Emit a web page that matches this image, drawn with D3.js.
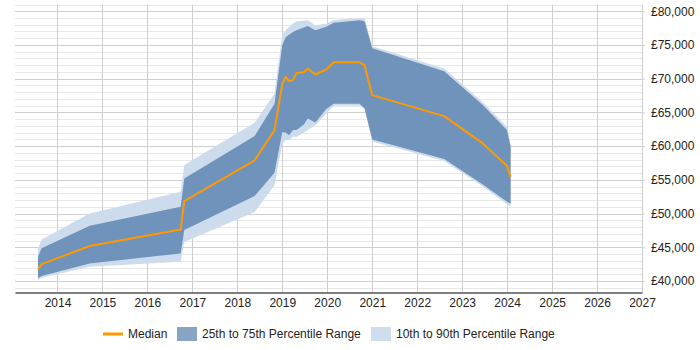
<!DOCTYPE html>
<html>
<head>
<meta charset="utf-8">
<script src="https://cdn.jsdelivr.net/npm/d3@7"></script>
<style>
  body { margin: 0; background: #fff; }
  text { font-family: "Liberation Sans", Arial, sans-serif; }
</style>
</head>
<body>
<div id="chart"></div>
<script>
// values
var dates = ["2013-07-27", "2013-08-25", "2014-09-20", "2016-09-28", "2016-10-27", "2018-05-22",
  "2018-10-30", "2019-01-01", "2019-01-30", "2019-02-25", "2019-03-29", "2019-04-27",
  "2019-06-25", "2019-07-27", "2019-09-27", "2019-12-24", "2020-02-24", "2020-09-20",
  "2020-10-30", "2021-01-01", "2022-08-08", "2023-06-18", "2024-01-01", "2024-01-30"];
var p10 = [40200, 40500, 42100, 42850, 45800, 50250, 54200, 60400, 60900, 60900, 61400, 61400,
  62000, 62400, 63100, 64800, 66000, 66000, 65500, 60700, 57800, 54000, 51400, 51100];
var p25 = [40400, 40750, 42600, 44100, 47550, 52600, 56050, 62100, 62000, 61600, 62400, 62400,
  63200, 64100, 63500, 65500, 66300, 66300, 65600, 61000, 58100, 54300, 51750, 51500];
var median = [41700, 42500, 45200, 47650, 51850, 57900, 62350, 69200, 70270, 69630, 69780, 70860,
  70960, 71510, 70620, 71360, 72440, 72440, 72000, 67560, 64450, 60400, 57040, 55450];
var p75 = [43600, 44850, 48200, 51000, 55200, 61500, 66300, 75000, 76200, 76500, 76930, 77200,
  77600, 77800, 77200, 77700, 78300, 78650, 78500, 74500, 71100, 66100, 62370, 59900];
var p90 = [44800, 46150, 50000, 53250, 57200, 63450, 67800, 76500, 77200, 77700, 78200, 78500,
  78600, 78700, 77900, 78200, 78700, 79000, 79000, 74800, 71500, 66500, 62860, 60200];
var xYears = [2014, 2015, 2016, 2017, 2018, 2019, 2020, 2021, 2022, 2023, 2024, 2025, 2026, 2027];
var yTicks = [40000, 45000, 50000, 55000, 60000, 65000, 70000, 75000, 80000];
var legendLabels = ["Median", "25th to 75th Percentile Range", "10th to 90th Percentile Range"];

var W = 700, H = 350;
var plotLeft = 15, plotRight = 642, plotTop = 4.5, plotBottom = 292.5;

var parseTime = d3.timeParse("%Y-%m-%d");
var data = dates.map(function (d, i) {
  return { date: parseTime(d), p10: p10[i], p25: p25[i], med: median[i], p75: p75[i], p90: p90[i] };
});

var x = d3.scaleTime()
  .domain([new Date(2013, 0, 21), new Date(2027, 0, 1)])
  .range([plotLeft, plotRight]);
var y = d3.scaleLinear().domain([38300, 81000]).range([plotBottom, plotTop]);

var svg = d3.select("#chart").append("svg").attr("width", W).attr("height", H);

// grid: minor every 1000, major every 5000
var minor = d3.range(39000, 81001, 1000).filter(function (v) { return v % 5000 !== 0; });
svg.append("g").selectAll("line").data(minor).enter().append("line")
  .attr("x1", plotLeft).attr("x2", plotRight)
  .attr("y1", function (d) { return Math.round(y(d)) + 0.5; })
  .attr("y2", function (d) { return Math.round(y(d)) + 0.5; })
  .attr("stroke", "#e8e8e8");
svg.append("g").selectAll("line").data(yTicks).enter().append("line")
  .attr("x1", plotLeft).attr("x2", plotRight)
  .attr("y1", function (d) { return Math.round(y(d)) + 0.5; })
  .attr("y2", function (d) { return Math.round(y(d)) + 0.5; })
  .attr("stroke", "#cfcfcf");
svg.append("g").selectAll("line").data(xYears).enter().append("line")
  .attr("x1", function (d) { return Math.round(x(new Date(d, 0, 1))) + 0.5; })
  .attr("x2", function (d) { return Math.round(x(new Date(d, 0, 1))) + 0.5; })
  .attr("y1", plotTop).attr("y2", plotBottom)
  .attr("stroke", "#cfcfcf");

// bands
var area = function (lo, hi) {
  return d3.area()
    .x(function (d) { return x(d.date); })
    .y0(function (d) { return y(d[lo]); })
    .y1(function (d) { return y(d[hi]); });
};
svg.append("path").datum(data).attr("d", area("p10", "p90"))
  .attr("fill", "#cddced");
svg.append("path").datum(data).attr("d", area("p25", "p75"))
  .attr("fill", "#7093bb");

var line = d3.line()
  .x(function (d) { return x(d.date); })
  .y(function (d) { return y(d.med); });
svg.append("path").datum(data).attr("d", line)
  .attr("fill", "none").attr("stroke", "#ff9900").attr("stroke-width", 2)
  .attr("stroke-linejoin", "round");

// x axis
var xAxis = svg.append("g").attr("transform", "translate(0," + plotBottom + ")")
  .call(d3.axisBottom(x)
    .tickValues(xYears.map(function (d) { return new Date(d, 0, 1); }))
    .tickFormat(d3.timeFormat("%Y"))
    .tickSizeInner(0).tickSizeOuter(0).tickPadding(6));
xAxis.select(".domain").attr("stroke", "#000");
xAxis.selectAll("text").attr("font-size", 12).attr("fill", "#222")
  .attr("font-family", "'Liberation Sans', Arial, sans-serif");

// y axis on the right
var yAxis = svg.append("g").attr("transform", "translate(" + plotRight + ",0)")
  .call(d3.axisRight(y).tickValues(yTicks)
    .tickFormat(function (d) { return "£" + d3.format(",")(d); })
    .tickSize(3).tickPadding(6));
yAxis.select(".domain").remove();
yAxis.selectAll("line").attr("stroke", "#cfcfcf");
yAxis.selectAll("text").attr("font-size", 12).attr("fill", "#222")
  .attr("font-family", "'Liberation Sans', Arial, sans-serif");

// legend
var lg = svg.append("g").attr("font-size", 12).attr("fill", "#222");
lg.append("line").attr("x1", 103).attr("x2", 123).attr("y1", 334).attr("y2", 334)
  .attr("stroke", "#ff9900").attr("stroke-width", 3);
lg.append("text").attr("x", 128).attr("y", 338).text(legendLabels[0]);
lg.append("rect").attr("x", 177).attr("y", 327).attr("width", 20).attr("height", 14)
  .attr("fill", "#88a4c5");
lg.append("text").attr("x", 202).attr("y", 338).text(legendLabels[1]);
lg.append("rect").attr("x", 371).attr("y", 327).attr("width", 20).attr("height", 14)
  .attr("fill", "#cfdeee");
lg.append("text").attr("x", 396).attr("y", 338).text(legendLabels[2]);
</script>
</body>
</html>
